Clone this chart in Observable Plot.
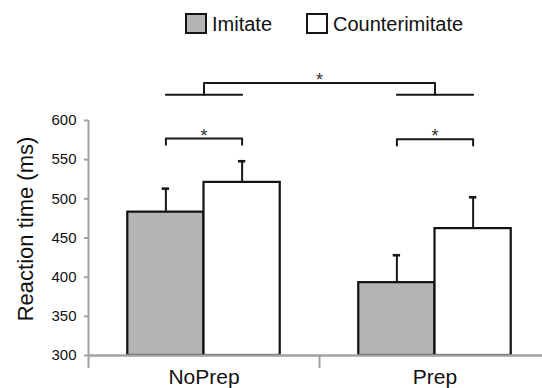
<!DOCTYPE html>
<html>
<head>
<meta charset="utf-8">
<script src="https://cdn.jsdelivr.net/npm/d3@7"></script>
<script src="https://cdn.jsdelivr.net/npm/@observablehq/plot@0.6"></script>
<style>
  html, body { margin: 0; padding: 0; background: #fff; overflow: hidden; }
  #wrap { width: 542px; height: 388px; overflow: hidden; position: relative; font-family: "Liberation Sans", Arial, sans-serif; }
  .legend { position: relative; height: 40px; }
  .sw { position: absolute; top: 13px; width: 22px; height: 21px; box-sizing: border-box; border: 2px solid #141414; }
  .lt { position: absolute; top: 12px; font-size: 20px; line-height: 24px; color: #111; }
  #wrap svg { display: block; max-width: none !important; width: 550px !important; height: 348px !important; }
</style>
</head>
<body>
<div id="wrap"></div>
<script>
// ---- data ----
const groups = ["NoPrep", "Prep"];
const conditions = ["Imitate", "Counterimitate"];
const conditionFills = ["#b3b4b3", "#ffffff"];
const imitateMeans = [483, 393];
const counterMeans = [521, 462];
const imitateErrors = [30, 35];
const counterErrors = [27, 40];
const yTicks = [300, 350, 400, 450, 500, 550, 600];
const yLabel = "Reaction time (ms)";
const sigLabel = "*";
const withinBracketY = [577, 576];   // ms level of the within-group brackets
const betweenBracketY = [633, 648];  // ms levels of the between-group bracket

// ---- layout constants ----
const BAR = 0.33;      // bar width as share of a group band
const CAP = 0.016;     // half width of an error-bar cap
const DROP = 8;        // bracket end drop (ms)

const rows = [];
groups.forEach((g, gi) => {
  const means = [imitateMeans[gi], counterMeans[gi]];
  const errs = [imitateErrors[gi], counterErrors[gi]];
  conditions.forEach((c, ci) => {
    const x1 = gi + 0.5 + (ci - 1) * BAR;
    rows.push({group: g, cond: c, x1, x2: x1 + BAR, cx: x1 + BAR / 2, mean: means[ci], top: means[ci] + errs[ci]});
  });
});
const center = (g, c) => rows.find(r => r.group === g && r.cond === c).cx;

// within-group brackets
const within = [];
groups.forEach((g, gi) => {
  const y = withinBracketY[gi];
  const a = center(g, conditions[0]), b = center(g, conditions[1]);
  within.push({z: g, x: a, y: y - DROP}, {z: g, x: a, y}, {z: g, x: b, y}, {z: g, x: b, y: y - DROP});
});
const withinStars = groups.map((g, gi) => ({x: gi + 0.5, y: withinBracketY[gi]}));

// between-group bracket
const lowerLines = [];
groups.forEach((g) => {
  lowerLines.push({z: g, x: center(g, conditions[0]), y: betweenBracketY[0]}, {z: g, x: center(g, conditions[1]), y: betweenBracketY[0]});
});
const upperLine = [
  {x: 0.5, y: betweenBracketY[0]}, {x: 0.5, y: betweenBracketY[1]},
  {x: groups.length - 0.5, y: betweenBracketY[1]}, {x: groups.length - 0.5, y: betweenBracketY[0]}
];
const betweenStar = [{x: groups.length / 2, y: betweenBracketY[1]}];

const ink = "#1a1718";
const axisGray = "#a3a3a3";

const legend = document.createElement("div");
legend.className = "legend";
legend.innerHTML =
  `<div class="sw" style="left:185px;background:${conditionFills[0]}"></div><div class="lt" style="left:212px">${conditions[0]}</div>` +
  `<div class="sw" style="left:306px;background:${conditionFills[1]}"></div><div class="lt" style="left:333px">${conditions[1]}</div>`;
document.getElementById("wrap").appendChild(legend);

const chart = Plot.plot({
  width: 550,
  height: 348,
  marginLeft: 88,
  marginRight: 0,
  marginTop: 80,
  marginBottom: 33,
  style: {fontFamily: "Liberation Sans, Arial, sans-serif", fontSize: "15px", color: "#111", background: "#fff", overflow: "visible", maxWidth: "none"},
  x: {domain: [0, groups.length], axis: null},
  y: {domain: [yTicks[0], yTicks[yTicks.length - 1]], axis: null},
  color: {domain: conditions, range: conditionFills},
  marks: [
    Plot.rectY(rows, {x1: "x1", x2: "x2", y1: yTicks[0], y2: "mean", fill: "cond", stroke: "#111", strokeWidth: 2.2}),
    Plot.link(rows, {x1: "cx", x2: "cx", y1: "mean", y2: "top", stroke: ink, strokeWidth: 2}),
    Plot.ruleY(rows, {y: "top", x1: d => d.cx - CAP, x2: d => d.cx + CAP, stroke: ink, strokeWidth: 2.6}),
    // axes
    Plot.axisY({ticks: yTicks, tickSize: 4, tickPadding: 8, fontSize: 15, stroke: axisGray, fill: "#111", strokeWidth: 2}),
    Plot.ruleX([0], {y1: yTicks[0], y2: yTicks[yTicks.length - 1], stroke: axisGray, strokeWidth: 2}),
    Plot.ruleY([yTicks[0]], {stroke: axisGray, strokeWidth: 2.5}),
    Plot.axisX({ticks: d3.range(groups.length + 1), tickSize: 13, tickFormat: () => "", stroke: axisGray, strokeWidth: 2}),
    Plot.axisX({ticks: groups.map((g, i) => i + 0.5), tickSize: 0, tickPadding: 14, tickFormat: v => groups[Math.floor(v)], fontSize: 21, fill: "#111"}),
    Plot.text([yLabel], {frameAnchor: "left", textAnchor: "middle", rotate: -90, dx: -63, dy: -9, fontSize: 22, fill: "#111"}),
    // significance brackets
    Plot.line(within, {x: "x", y: "y", z: "z", stroke: ink, strokeWidth: 2}),
    Plot.line(lowerLines, {x: "x", y: "y", z: "z", stroke: ink, strokeWidth: 2}),
    Plot.line(upperLine, {x: "x", y: "y", stroke: ink, strokeWidth: 2}),
    Plot.text(withinStars, {x: "x", y: "y", text: () => sigLabel, lineAnchor: "bottom", dy: 3, fontSize: 18, fill: "#333"}),
    Plot.text(betweenStar, {x: "x", y: "y", text: () => sigLabel, lineAnchor: "bottom", dy: 3.5, fontSize: 18, fill: "#333"})
  ]
});
document.getElementById("wrap").appendChild(chart);
</script>
</body>
</html>
